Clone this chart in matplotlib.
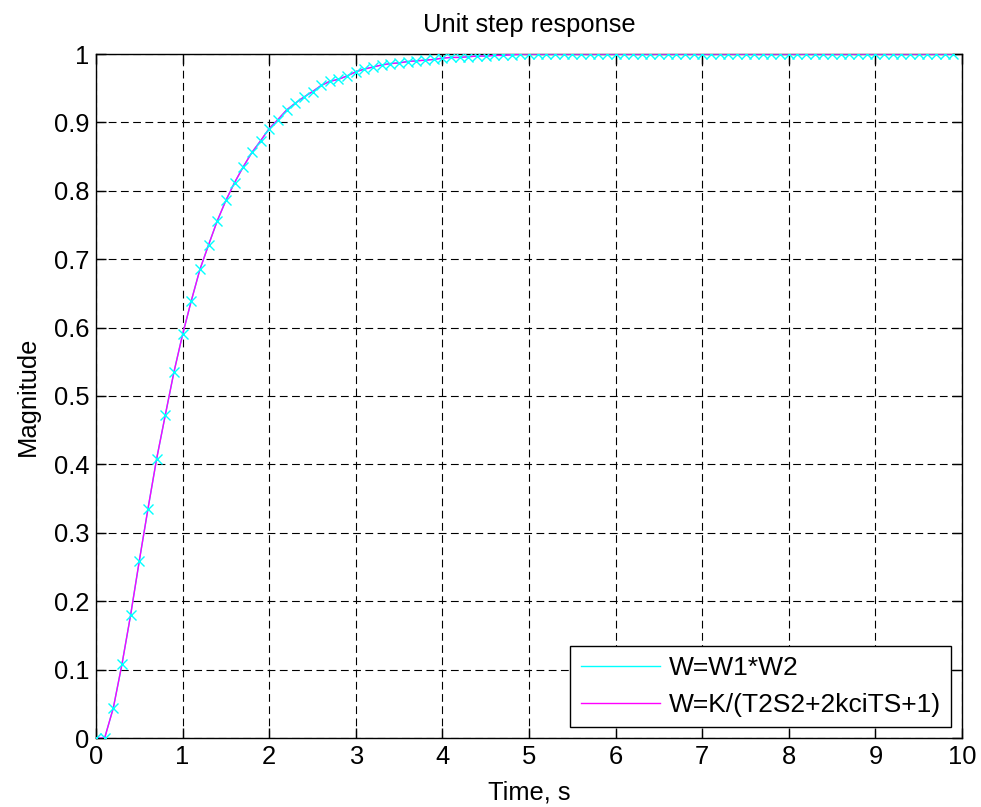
import numpy as np
import matplotlib
matplotlib.use('Agg')
import matplotlib.pyplot as plt
import matplotlib.ticker as mticker

# ── Step response samples (dt = 0.1 s) ──────────────────────
dt = 0.1
step_resp = [
    0.000, 0.000, 0.044, 0.108, 0.180, 0.259, 0.335, 0.408, 0.472, 0.535,
    0.590, 0.639, 0.685, 0.721, 0.756, 0.786, 0.812, 0.835, 0.856, 0.873,
    0.891, 0.904, 0.918, 0.928, 0.937, 0.945, 0.954, 0.960, 0.963, 0.968,
    0.974, 0.978, 0.981, 0.984, 0.986, 0.987, 0.989, 0.990, 0.991, 0.992,
    0.994, 0.995, 0.995, 0.996, 0.997, 0.997, 0.998, 0.998, 0.999, 1.000,
    1.000, 1.000, 1.000, 1.000, 1.000, 1.000, 1.000, 1.000, 1.000, 1.000,
    1.000, 1.000, 1.000, 1.000, 1.000, 1.000, 1.000, 1.000, 1.000, 1.000,
    1.000, 1.000, 1.000, 1.000, 1.000, 1.000, 1.000, 1.000, 1.000, 1.000,
    1.000, 1.000, 1.000, 1.000, 1.000, 1.000, 1.000, 1.000, 1.000, 1.000,
    1.000, 1.000, 1.000, 1.000, 1.000, 1.000, 1.000, 1.000, 1.000, 1.000,
]
t = np.arange(len(step_resp)) * dt

labels = ['W=W1*W2', 'W=K/(T2S2+2kciTS+1)']
x_ticks = list(range(0, 11))
y_ticks = [0, 0.1, 0.2, 0.3, 0.4, 0.5, 0.6, 0.7, 0.8, 0.9, 1]

FS = 18.4
plt.rcParams.update({
    'font.family': ['Liberation Sans', 'DejaVu Sans'],
    'font.size': FS,
})

W, H = 981, 807
fig = plt.figure(figsize=(W / 100, H / 100), dpi=100)
ax = fig.add_axes([96 / W, 1 - 738 / H, (962 - 96) / W, (738 - 54) / H])

ax.plot(t, step_resp, color='#00FFFF', linewidth=1.0, label=labels[0], zorder=3)
ax.plot(t, step_resp, color='#FF00FF', linewidth=1.0, label=labels[1], zorder=4)
ax.plot(t, step_resp, linestyle='none', marker='x', color='#00FFFF',
        markersize=6.5, markeredgewidth=1.0, zorder=5)

ax.set_xlim(0, 10)
ax.set_ylim(0, 1)
ax.set_xticks(x_ticks)
ax.set_yticks(y_ticks)
ax.yaxis.set_major_formatter(mticker.FormatStrFormatter('%g'))
ax.tick_params(direction='in', length=7, width=1, top=True, right=True,
               labelsize=FS, pad=5, colors='black')

ax.grid(True, color='black', linestyle=(0, (7, 4)), linewidth=0.8)
ax.set_axisbelow(True)
for sp in ax.spines.values():
    sp.set_color('black')
    sp.set_linewidth(1.0)

ax.set_title('Unit step response', fontsize=FS, pad=16)
ax.set_xlabel('Time, s', fontsize=FS, labelpad=8)
ax.set_ylabel('Magnitude', fontsize=FS, labelpad=10)

leg = ax.legend(loc='lower right', fontsize=19, fancybox=False, framealpha=1,
                edgecolor='black', handlelength=3.0, handletextpad=0.33,
                labelspacing=0.48, borderaxespad=0.4, borderpad=0.4)
leg.get_frame().set_linewidth(1.0)

fig.savefig('out.png', dpi=100)
